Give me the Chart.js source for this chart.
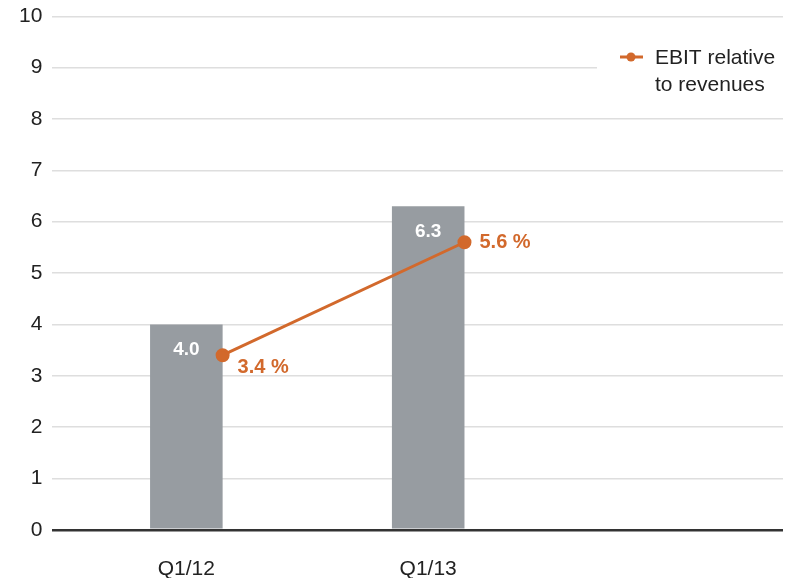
<!DOCTYPE html>
<html>
<head>
<meta charset="utf-8">
<script src="https://cdn.jsdelivr.net/npm/chart.js@4.4.1/dist/chart.umd.min.js"></script>
<style>
  html, body { margin: 0; padding: 0; background: #fff; }
  #wrap { width: 792px; height: 578px; }
</style>
</head>
<body>
<div id="wrap"><canvas id="ebit-chart" width="792" height="578"></canvas></div>
<script>
// Data
const quarters = ['Q1/12', 'Q1/13'];
const ebitValues = [4.0, 6.3];
const ebitMargin = [3.4, 5.6];
const yTicks = [0, 1, 2, 3, 4, 5, 6, 7, 8, 9, 10];

const colors = {
  bar: '#979ca1',
  line: '#d2692c',
  grid: '#dedede',
  axis: '#333333',
  text: '#222222',
};
const fontFamily = '"Liberation Sans", Arial, sans-serif';
const barFraction = 0.3;

// Bars sit on whole-number positions, the margin line on each bar's right edge
const barPoints = ebitValues.map((v, i) => ({ x: i, y: v }));
const linePoints = ebitMargin.map((v, i) => ({ x: i + barFraction / 2, y: v }));

// White value labels inside bars, orange percent labels beside line points
const valueLabels = {
  id: 'valueLabels',
  afterDatasetsDraw(chart) {
    const ctx = chart.ctx;
    ctx.save();
    ctx.font = 'bold 19px ' + fontFamily;
    ctx.fillStyle = '#ffffff';
    ctx.textAlign = 'center';
    ctx.textBaseline = 'middle';
    chart.getDatasetMeta(0).data.forEach((bar, i) => {
      ctx.fillText(ebitValues[i].toFixed(1), bar.x, bar.y + 25);
    });

    const dy = [12, 0];
    ctx.font = 'bold 20px ' + fontFamily;
    ctx.fillStyle = colors.line;
    ctx.textAlign = 'left';
    chart.getDatasetMeta(1).data.forEach((pt, i) => {
      ctx.fillText(ebitMargin[i].toFixed(1) + ' %', pt.x + 15, pt.y + dy[i]);
    });
    ctx.restore();
  }
};

// Two-line legend in the top right corner
const sideLegend = {
  id: 'sideLegend',
  afterDraw(chart) {
    const ctx = chart.ctx;
    const x = 597;
    const y = 40;
    ctx.save();
    ctx.fillStyle = '#ffffff';
    ctx.fillRect(x, y, 186, 62);

    ctx.strokeStyle = colors.line;
    ctx.lineWidth = 3;
    ctx.beginPath();
    ctx.moveTo(x + 23, y + 17);
    ctx.lineTo(x + 46, y + 17);
    ctx.stroke();
    ctx.fillStyle = colors.line;
    ctx.beginPath();
    ctx.arc(x + 34, y + 17, 4.5, 0, Math.PI * 2);
    ctx.fill();

    ctx.fillStyle = colors.text;
    ctx.font = '21px ' + fontFamily;
    ctx.textAlign = 'left';
    ctx.textBaseline = 'middle';
    ctx.fillText('EBIT relative', x + 58, y + 18);
    ctx.fillText('to revenues', x + 58, y + 45);
    ctx.restore();
  }
};

new Chart(document.getElementById('ebit-chart'), {
  data: {
    datasets: [
      {
        type: 'bar',
        label: 'EBIT',
        data: barPoints,
        backgroundColor: colors.bar,
        borderWidth: 0,
        categoryPercentage: 1,
        barPercentage: barFraction,
        order: 2,
      },
      {
        type: 'line',
        label: 'EBIT relative to revenues',
        data: linePoints,
        borderColor: colors.line,
        backgroundColor: colors.line,
        borderWidth: 3,
        pointRadius: 5.5,
        pointHoverRadius: 5.5,
        order: 1,
      }
    ]
  },
  options: {
    responsive: false,
    animation: false,
    layout: {
      padding: { top: 0, left: 9, right: 9, bottom: -31 }
    },
    plugins: {
      legend: { display: false },
      tooltip: { enabled: false },
    },
    scales: {
      x: {
        type: 'linear',
        offset: false,
        min: -0.554,
        max: 2.467,
        afterBuildTicks(scale) {
          scale.ticks = quarters.map((q, i) => ({ value: i }));
        },
        grid: { display: false, drawTicks: false },
        border: { display: false },
        ticks: {
          color: colors.text,
          font: { family: fontFamily, size: 21 },
          padding: 27,
          maxRotation: 0,
          callback: (v) => quarters[v] ?? '',
        },
      },
      y: {
        min: 0,
        max: 10,
        afterBuildTicks(scale) {
          scale.ticks = yTicks.map(v => ({ value: v }));
        },
        grid: {
          drawTicks: false,
          color: (c) => c.tick && c.tick.value === 0 ? colors.axis : colors.grid,
          lineWidth: (c) => c.tick && c.tick.value === 0 ? 2.5 : 1.5,
        },
        border: { display: false },
        ticks: {
          color: colors.text,
          font: { family: fontFamily, size: 21, lineHeight: 0.6 },
          padding: 10,
        },
      }
    }
  },
  plugins: [valueLabels, sideLegend]
});
</script>
</body>
</html>
